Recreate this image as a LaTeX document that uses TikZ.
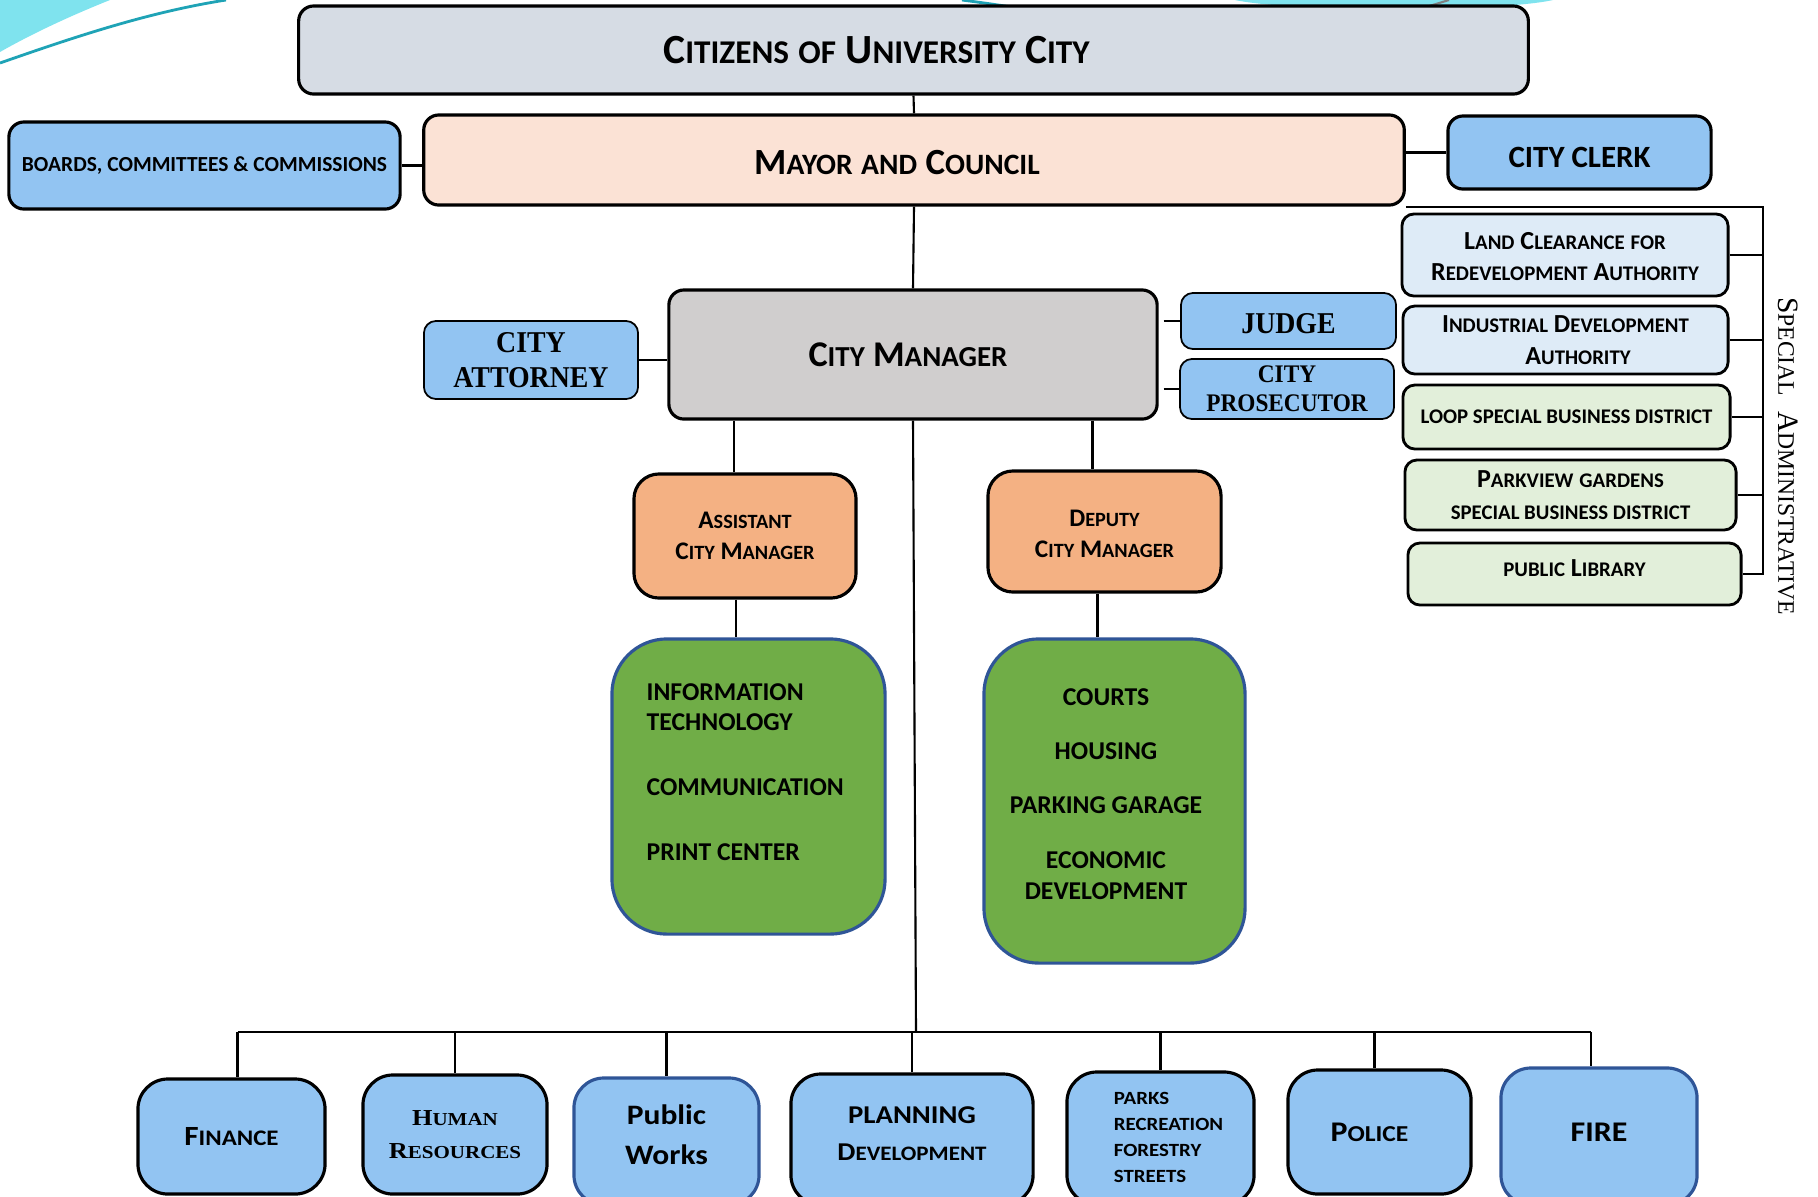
\documentclass[tikz,border=0pt]{standalone}
\usepackage{fontspec}
\usepackage{graphicx}
\setmainfont{Carlito}
\newfontfamily\widefont{Carlito}[FakeStretch=1.12]
\newfontfamily\seriffont{Liberation Serif}
\newfontfamily\serifnarrow{Liberation Serif}[FakeStretch=0.92]
\newfontfamily\serifwide{Liberation Serif}[FakeStretch=1.15]
\newcommand{\sk}[1]{\scalebox{0.8}{#1}}
\newcommand{\fs}[2]{\fontsize{#1}{#2}\selectfont}
\newcommand{\nudge}[2]{\raisebox{#1}[\height][\depth]{#2}}
\newcommand{\lift}[2]{\raisebox{#1}[\height][\depth]{\begin{tabular}{@{}c@{}}#2\end{tabular}}}
\definecolor{citizengray}{HTML}{D6DCE4}
\definecolor{mayorpeach}{HTML}{FBE2D5}
\definecolor{boxblue}{HTML}{92C4F2}
\definecolor{managergray}{HTML}{D0CECE}
\definecolor{orangebox}{HTML}{F4B183}
\definecolor{deptgreen}{HTML}{70AD47}
\definecolor{deptblue}{HTML}{2F5597}
\definecolor{authblue}{HTML}{DEEBF7}
\definecolor{distgreen}{HTML}{E2EFDA}
\definecolor{swooshcyan}{HTML}{7FE3EE}
\definecolor{swooshteal}{HTML}{1FA3B6}
\usetikzlibrary{calc}

\begin{document}
\begin{tikzpicture}
  [x=0.01cm, y=-0.01cm,
   box/.style={draw, line width=0.9pt, rounded corners=0.15cm, inner sep=0pt, align=center},
   thinbox/.style={draw, line width=0.5pt, rounded corners=0.12cm, fill=boxblue, inner sep=0pt, align=center, font=\serifnarrow\bfseries},
   orgbox/.style={box, fill=orangebox, rounded corners=0.25cm, font=\bfseries\fs{7.2}{8.9}},
   grnbox/.style={draw=deptblue, line width=0.9pt, fill=deptgreen, rounded corners=0.55cm, inner sep=0pt},
   grntext/.style={inner sep=0pt, font=\bfseries\fs{7.3}{8.6}},
   authbox/.style={box, line width=0.8pt, rounded corners=0.12cm, fill=authblue, font=\bfseries\fs{7.4}{8.9}},
   distbox/.style={box, line width=0.8pt, rounded corners=0.12cm, fill=distgreen, font=\bfseries\fs{7.4}{8.9}},
   botbox/.style={box, fill=boxblue, rounded corners=0.3cm, font=\widefont\bfseries},
   link/.style={line width=0.6pt}]
  \useasboundingbox (0,0) rectangle (1818,1196);

  %corner swooshes
  \fill[swooshcyan] (0,0) -- (110,0) .. controls (65,18) and (28,36) .. (0,52) -- cycle;
  \draw[swooshteal, line width=0.8pt] (0,63) .. controls (80,35) and (150,12) .. (226,0);
  \fill[swooshcyan] (1235,0) .. controls (1290,12) and (1500,12) .. (1553,0) -- cycle;
  \draw[swooshteal, line width=0.8pt] (962,0) .. controls (985,3) and (1005,6) .. (1025,9);
  \draw[gray, line width=0.6pt] (1426,7) -- (1449,0);

  %top levels
  \node[box, fill=citizengray, minimum width=12.29cm, minimum height=0.88cm, font=\bfseries\fs{11.8}{14}]
    (citizens) at (913.5,50) {C\sk{ITIZENS} \sk{OF} U\sk{NIVERSITY} C\sk{ITY}\hspace*{0.74cm}};
  \node[box, fill=mayorpeach, minimum width=9.8cm, minimum height=0.9cm, font=\bfseries\fs{10.5}{12}]
    (mayor) at (914,160) {\nudge{-0.6pt}{M\sk{AYOR} \sk{AND} C\sk{OUNCIL}}\hspace*{0.34cm}};
  \node[box, fill=boxblue, minimum width=3.91cm, minimum height=0.87cm, font=\bfseries\fs{6.1}{7}]
    (boards) at (204.5,165.5) {BOARDS, COMMITTEES \& COMMISSIONS};
  \node[box, fill=boxblue, minimum width=2.63cm, minimum height=0.73cm, font=\bfseries\fs{8.8}{10}]
    (clerk) at (1579.5,152.5) {\nudge{-1.4pt}{CITY CLERK}};

  %city manager row
  \node[box, fill=managergray, minimum width=4.88cm, minimum height=1.29cm, font=\bfseries\fs{10.3}{12}]
    (manager) at (913,354.5) {C\sk{ITY} M\sk{ANAGER}\hspace*{0.1cm}};
  \node[thinbox, minimum width=2.14cm, minimum height=0.78cm, font=\serifnarrow\bfseries\fs{8.6}{10}]
    (attorney) at (531,360) {CITY\\ATTORNEY};
  \node[thinbox, minimum width=2.15cm, minimum height=0.56cm, font=\serifnarrow\bfseries\fs{8.6}{10}]
    (judge) at (1288.5,321) {\nudge{-0.8pt}{JUDGE}};
  \node[thinbox, minimum width=2.14cm, minimum height=0.6cm, font=\serifnarrow\bfseries\fs{7.2}{8.2}]
    (prosecutor) at (1287,389) {CITY\\PROSECUTOR};

  %assistant and deputy
  \node[orgbox, minimum width=2.22cm, minimum height=1.24cm] (acm) at (745,536)
    {A\sk{SSISTANT}\\C\sk{ITY} M\sk{ANAGER}};
  \node[orgbox, minimum width=2.33cm, minimum height=1.21cm] (dcm) at (1104.5,531.5)
    {\lift{-1.3pt}{D\sk{EPUTY}\\C\sk{ITY} M\sk{ANAGER}}};
  \node[grnbox, minimum width=2.73cm, minimum height=2.95cm] (acmdept) at (748.5,786.5) {};
  \node[grnbox, minimum width=2.61cm, minimum height=3.24cm] (dcmdept) at (1114.5,801) {};
  \node[grntext, align=left, anchor=west] (acmlist) at (646,772)
    {INFORMATION\\TECHNOLOGY\\[10pt]COMMUNICATION\\[9.7pt]PRINT CENTER};
  \node[grntext, align=center] (dcmlist) at (1106,794)
    {COURTS\\[6.6pt]HOUSING\\[7pt]PARKING GARAGE\\[7pt]ECONOMIC\\DEVELOPMENT};

  %special administrative
  \node[authbox, minimum width=3.26cm, minimum height=0.82cm] (landclear) at (1565,255)
    {\lift{-1pt}{L\sk{AND} C\sk{LEARANCE} \sk{FOR}\\R\sk{EDEVELOPMENT} A\sk{UTHORITY}}};
  \node[authbox, minimum width=3.25cm, minimum height=0.68cm] (industrial) at (1565.5,340)
    {I\sk{NDUSTRIAL} D\sk{EVELOPMENT}\\\hspace*{0.25cm}A\sk{UTHORITY}};
  \node[distbox, minimum width=3.27cm, minimum height=0.64cm] (loop) at (1566.5,417)
    {\sk{LOOP SPECIAL BUSINESS DISTRICT}};
  \node[distbox, minimum width=3.31cm, minimum height=0.7cm] (parkview) at (1570.5,495)
    {P\sk{ARKVIEW} \sk{GARDENS}\\\sk{SPECIAL BUSINESS DISTRICT}};
  \node[distbox, minimum width=3.33cm, minimum height=0.62cm] (library) at (1574.5,574)
    {\nudge{1.7pt}{\sk{PUBLIC} L\sk{IBRARY}}};
  \node[rotate=-90, inner sep=0pt, font=\seriffont\fs{8.4}{9}] (admin) at (1788,456)
    {S\sk{PECIAL}\ \ A\sk{DMINISTRATIVE}};

  %departments
  \node[botbox, minimum width=1.87cm, minimum height=1.15cm, font=\widefont\bfseries\fs{7.9}{9}]
    (finance) at (231.5,1136.5) {F\sk{INANCE}};
  \node[botbox, minimum width=1.84cm, minimum height=1.19cm, font=\serifwide\bfseries\fs{6.5}{9.2}]
    (hr) at (455,1134.5) {H\sk{UMAN}\\R\sk{ESOURCES}};
  \node[botbox, draw=deptblue, minimum width=1.85cm, minimum height=1.27cm, font=\widefont\bfseries\fs{8}{11.2}]
    (pw) at (666.5,1141.5) {\lift{1.4pt}{Public\\Works}};
  \node[botbox, minimum width=2.42cm, minimum height=1.31cm, font=\widefont\bfseries\fs{7.3}{10.5}]
    (planning) at (912,1139.5) {\lift{1.3pt}{PLANNING\\D\sk{EVELOPMENT}}};
  \node[botbox, minimum width=1.87cm, minimum height=1.33cm, font=\widefont\bfseries\fs{5.3}{7.4}]
    (parks) at (1160.5,1138.5)
    {\hspace*{0.16cm}\begin{tabular}{@{}l@{}}PARKS\\RECREATION\\FORESTRY\\STREETS\end{tabular}};
  \node[botbox, minimum width=1.83cm, minimum height=1.24cm, font=\widefont\bfseries\fs{8.1}{10}]
    (police) at (1379.5,1132) {P\sk{OLICE}\hspace*{0.2cm}};
  \node[botbox, draw=deptblue, minimum width=1.96cm, minimum height=1.37cm, font=\widefont\bfseries\fs{8.1}{10}]
    (fire) at (1599,1136.5) {\nudge{1.3pt}{FIRE}};

  %connectors
  \draw[link] (citizens.south) -- (mayor.north);
  \draw[link] (boards.east) -- (boards.east -| mayor.west);
  \draw[link] (clerk.west -| mayor.east) -- (clerk.west);
  \draw[link] (mayor.south) -- (manager.north);
  \draw[link] (attorney.east) -- (attorney.east -| manager.west);
  \draw[link] ([xshift=0.05cm]judge.west -| manager.east) -- (judge.west);
  \draw[link] ([xshift=0.05cm]prosecutor.west -| manager.east) -- (prosecutor.west);
  \draw[link] ([xshift=-0.11cm]acm.north |- manager.south) -- ([xshift=-0.11cm]acm.north);
  \draw[link] ([xshift=-0.12cm]dcm.north |- manager.south) -- ([xshift=-0.12cm]dcm.north);
  \draw[link] ([xshift=-0.09cm]acm.south) -- ([xshift=-0.09cm]acm.south |- acmdept.north);
  \draw[link] ([xshift=-0.07cm]dcm.south) -- ([xshift=-0.07cm]dcm.south |- dcmdept.north);

  %department bus
  \coordinate (bus) at (916,1032);
  \draw[link] (manager.south) -- (bus);
  \draw[link] ([xshift=0.06cm]finance.north |- bus) -- ([xshift=-0.08cm]fire.north |- bus);
  \draw[link] ([xshift=0.06cm]finance.north |- bus) -- ([xshift=0.06cm]finance.north);
  \foreach \d in {hr,pw,planning,parks} {
    \draw[link] (\d.north |- bus) -- (\d.north);
  }
  \draw[link] ([xshift=-0.05cm]police.north |- bus) -- ([xshift=-0.05cm]police.north);
  \draw[link] ([xshift=-0.08cm]fire.north |- bus) -- ([xshift=-0.08cm]fire.north);

  %special administrative bracket
  \coordinate (brk) at (1763,202);
  \draw[link] (mayor.south east) -- (mayor.south east -| brk) -- (library.east -| brk) -- (library.east);
  \foreach \s in {landclear,industrial,loop,parkview} {
    \draw[link] (\s.east) -- (\s.east -| brk);
  }
\end{tikzpicture}
\end{document}
